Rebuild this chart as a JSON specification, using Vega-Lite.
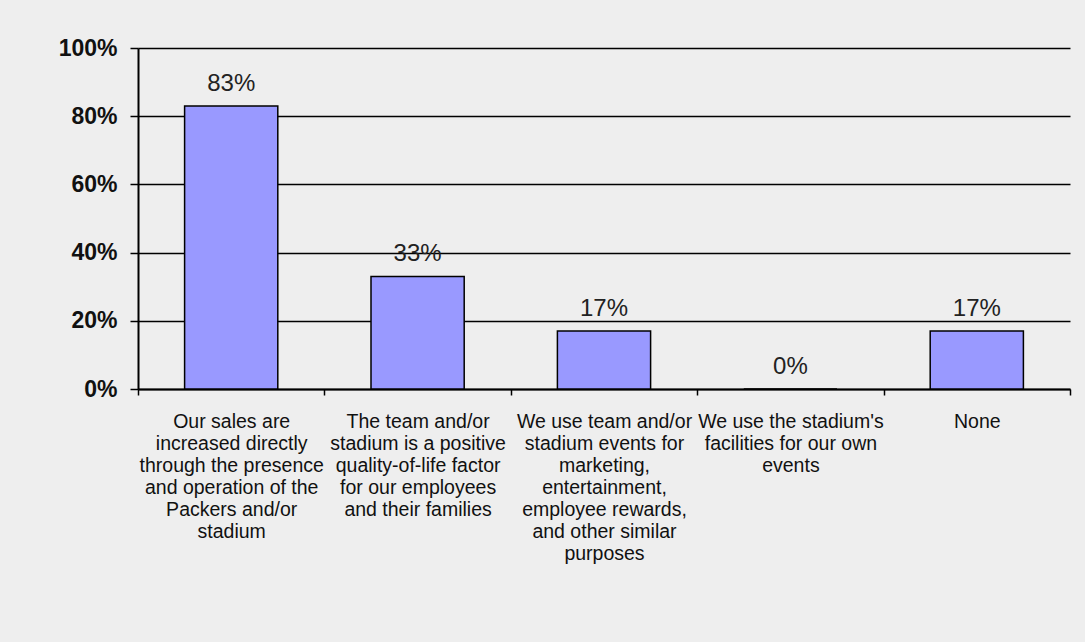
{
  "$schema": "https://vega.github.io/schema/vega-lite/v6.json",
  "width": 932,
  "height": 341,
  "autosize": {"type": "none"},
  "padding": {"left": 138, "top": 48, "right": 15, "bottom": 253},
  "background": "#EEEEEE",
  "config": {
    "view": {"stroke": null},
    "font": "Liberation Sans"
  },
  "data": {
    "values": [
      {"category": "Our sales are|increased directly|through the presence|and operation of the|Packers and/or|stadium", "value": 0.83},
      {"category": "The team and/or|stadium is a positive|quality-of-life factor|for our employees|and their families", "value": 0.33},
      {"category": "We use team and/or|stadium events for|marketing,|entertainment,|employee rewards,|and other similar|purposes", "value": 0.17},
      {"category": "We use the stadium's|facilities for our own|events", "value": 0.0},
      {"category": "None", "value": 0.17}
    ]
  },
  "encoding": {
    "x": {
      "field": "category",
      "type": "nominal",
      "sort": null,
      "scale": {"paddingInner": 0, "paddingOuter": 0},
      "axis": {
        "title": null,
        "labelAngle": 0,
        "labelExpr": "isValid(datum.value) ? split(datum.value, '|') : ''",
        "labelFont": "Liberation Sans",
        "labelFontSize": 19.5,
        "labelLineHeight": 22,
        "labelColor": "#111111",
        "labelPadding": 17,
        "labelLimit": 400,
        "labelBaseline": "top",
        "tickBand": "extent",
        "tickSize": 6,
        "tickColor": "#000000",
        "tickWidth": 1.5,
        "domainColor": "#000000",
        "domainWidth": 2,
        "grid": false
      }
    },
    "y": {
      "field": "value",
      "type": "quantitative",
      "scale": {"domain": [0, 1]},
      "axis": {
        "title": null,
        "format": ".0%",
        "values": [0, 0.2, 0.4, 0.6, 0.8, 1],
        "labelFont": "Liberation Sans",
        "labelFontSize": 23,
        "labelFontWeight": "bold",
        "labelColor": "#111111",
        "labelPadding": 13,
        "tickSize": 8,
        "tickColor": "#000000",
        "tickWidth": 1.5,
        "domainColor": "#000000",
        "domainWidth": 2,
        "grid": true,
        "gridColor": "#000000",
        "gridOpacity": 1,
        "gridWidth": 1.5
      }
    }
  },
  "layer": [
    {
      "mark": {"type": "bar", "width": {"band": 0.5}, "color": "#9999FF", "stroke": "#000000", "strokeWidth": 1.5}
    },
    {
      "mark": {"type": "text", "baseline": "alphabetic", "dy": -15, "fontSize": 24, "font": "Liberation Sans", "color": "#222222"},
      "encoding": {
        "text": {"field": "value", "type": "quantitative", "format": ".0%"}
      }
    }
  ]
}
